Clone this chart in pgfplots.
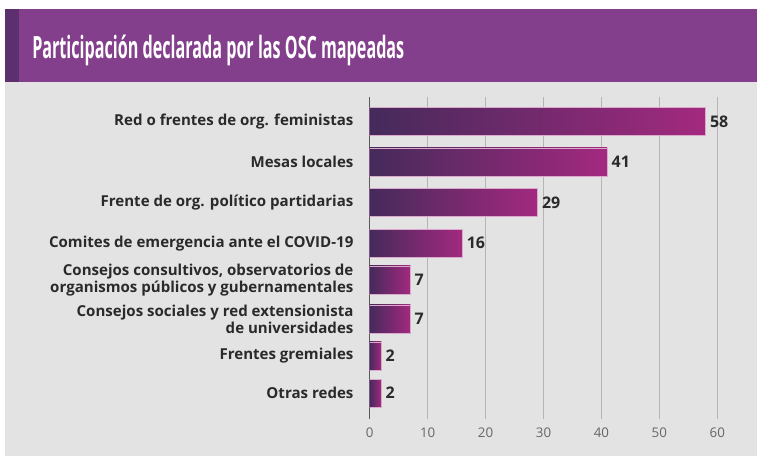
\documentclass[border=0pt]{standalone}
\usepackage{pgfplots}
\pgfplotsset{compat=1.18}
\usepackage{graphicx}
\usepackage{fontspec}
\setmainfont{Open Sans}
\definecolor{hdr}{HTML}{843F8C}
\definecolor{hdrdark}{HTML}{5C2F6E}
\definecolor{bg}{HTML}{E4E3E3}
\definecolor{barleft}{HTML}{452A5B}
\definecolor{barright}{HTML}{A3297F}
\definecolor{gridc}{HTML}{B5B5B5}
\definecolor{txt}{HTML}{2A2A2A}
\definecolor{tickc}{HTML}{666666}

\pgfplotsset{gradbar/.style={left color=barleft, right color=barright,
    draw=barright!40!white, line width=0.6pt}}

\begin{document}
\begin{tikzpicture}[x=0.75pt,y=0.75pt]
% page frame, in pixels of the reference (y measured from the bottom)
\path (0,0) rectangle (757,457);
\fill[bg] (5,1) rectangle (757,375);
\fill[hdr] (5,375) rectangle (757,448);
\fill[hdrdark] (5,375) rectangle (19,448);
\node[anchor=base west, inner sep=0pt, text=white] at (32,398)
  {\resizebox{279pt}{\height}{\fontsize{23}{27}\selectfont\bfseries Participación declarada por las OSC mapeadas}};
\coordinate (axpos) at (369.7,38);

\begin{axis}[
    at={(axpos)}, anchor=south west,
    scale only axis,
    width=260.7pt, height=241.5pt,
    xbar, bar shift=0pt,
    bar width=28,
    xmin=0, xmax=60,
    ymin=0, ymax=322,
    xtick={10,20,...,60},
    extra x ticks={0},
    extra x tick style={grid style={draw=black!65, line width=1pt}},
    xmajorgrids=true,
    grid style={draw=gridc, line width=0.6pt},
    axis line style={draw=none},
    major tick length=0pt,
    /pgf/number format/assume math mode=true,
    xticklabel style={font=\fontsize{10}{12}\selectfont, text=tickc, yshift=-3pt},
    ytick={297.7,257,216.3,175.7,139,100,63,26},
    yticklabels={
      Red o frentes de org. feministas,
      Mesas locales,
      Frente de org. político partidarias,
      Comites de emergencia ante el COVID-19,
      {Consejos consultivos, observatorios de\\organismos públicos y gubernamentales},
      {Consejos sociales y red extensionista\\de universidades},
      Frentes gremiales,
      Otras redes},
    yticklabel style={font=\fontsize{11.3}{12.8}\selectfont\bfseries, text=txt,
      align=right, anchor=east, inner sep=0pt, xshift=-12pt},
    nodes near coords,
    nodes near coords style={font=\fontsize{12}{14}\selectfont\bfseries, text=txt,
      anchor=west, inner sep=0pt, xshift=3pt},
]
\addplot[gradbar] coordinates {(58,297.7)};
\addplot[gradbar] coordinates {(41,257)};
\addplot[gradbar] coordinates {(29,216.3)};
\addplot[gradbar] coordinates {(16,175.7)};
\addplot[gradbar] coordinates {(7,139)};
\addplot[gradbar] coordinates {(7,100)};
\addplot[gradbar] coordinates {(2,63)};
\addplot[gradbar] coordinates {(2,26)};
\end{axis}
\end{tikzpicture}
\end{document}
